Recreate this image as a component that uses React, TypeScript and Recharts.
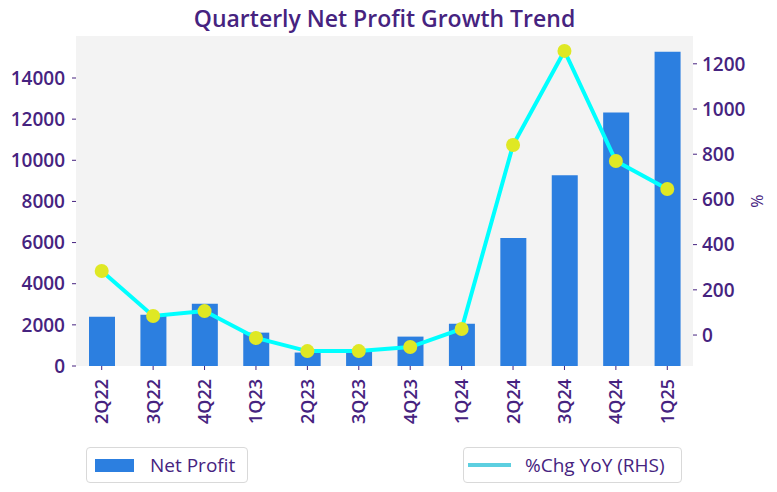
import {
  ComposedChart,
  Bar,
  Line,
  XAxis,
  YAxis,
  CartesianGrid,
} from 'recharts';

const quarters = ['2Q22', '3Q22', '4Q22', '1Q23', '2Q23', '3Q23', '4Q23', '1Q24', '2Q24', '3Q24', '4Q24', '1Q25'];
const netProfit = [2397, 2494, 3027, 1622, 654, 750, 1429, 2058, 6223, 9274, 12324, 15278];
const chgYoY = [283, 84, 106, -13, -71, -71, -53, 27, 841, 1257, 770, 646];
const leftTicks = [0, 2000, 4000, 6000, 8000, 10000, 12000, 14000];
const rightTicks = [0, 200, 400, 600, 800, 1000, 1200];

const FONT = '"Open Sans", sans-serif';
const PURPLE = '#46237f';
const BAR = '#2c7fe0';
const LINE = '#00ffff';
const DOT = '#dfe824';

const data = quarters.map((q, i) => ({ q, profit: netProfit[i], chg: chgYoY[i] }));

const XTick = ({ x, y, payload }: any) => (
  <g transform={`translate(${x},${y})`}>
    <text
      transform="rotate(-90)"
      textAnchor="end"
      dy="0.36em"
      x={0}
      fill={PURPLE}
      fontSize={18}
      fontWeight={600}
      fontFamily={FONT}
    >
      {payload.value}
    </text>
  </g>
);

const tickStyle = { fill: PURPLE, fontSize: 19, fontWeight: 600, fontFamily: FONT };

const LegendBox = ({ left, width, swatch, label }: any) => (
  <div
    style={{
      position: 'absolute',
      left,
      top: 447,
      width,
      height: 36,
      boxSizing: 'border-box',
      border: '1px solid #d9d9d9',
      borderRadius: 4,
      display: 'flex',
      alignItems: 'center',
      fontFamily: FONT,
      fontSize: 19,
      fontWeight: 500,
      color: PURPLE,
      background: '#fff',
    }}
  >
    {swatch}
    <span>{label}</span>
  </div>
);

export default function App() {
  return (
    <div style={{ position: 'absolute', left: 0, top: 0, width: 777, height: 492, background: '#fff' }}>
      <div
        style={{
          position: 'absolute',
          left: 0,
          top: 2,
          width: 769,
          textAlign: 'center',
          fontFamily: FONT,
          fontSize: 23,
          fontWeight: 600,
          color: PURPLE,
        }}
      >
        Quarterly Net Profit Growth Trend
      </div>
      <ComposedChart
        width={777}
        height={492}
        data={data}
        margin={{ top: 36, right: 0, bottom: 0, left: 0 }}
      >
        <CartesianGrid fill="#f3f3f3" stroke="none" horizontal={false} vertical={false} />
        <XAxis
          dataKey="q"
          height={126}
          axisLine={false}
          tickLine={{ stroke: PURPLE }}
          tickSize={4}
          tickMargin={9}
          tick={<XTick />}
          interval={0}
        />
        <YAxis
          yAxisId="left"
          width={76}
          domain={[0, 16042]}
          ticks={leftTicks}
          allowDataOverflow
          axisLine={false}
          tickLine={{ stroke: PURPLE }}
          tickSize={4}
          tickMargin={7}
          tick={tickStyle}
        />
        <YAxis
          yAxisId="right"
          orientation="right"
          width={84}
          domain={[-137, 1323]}
          ticks={rightTicks}
          allowDataOverflow
          axisLine={false}
          tickLine={{ stroke: PURPLE }}
          tickSize={4}
          tickMargin={5}
          tick={tickStyle}
          label={{
            value: '%',
            angle: -90,
            position: 'center',
            dx: 22,
            fill: PURPLE,
            fontSize: 16,
            fontFamily: FONT,
          }}
        />
        <Bar
          yAxisId="left"
          dataKey="profit"
          name="Net Profit"
          fill={BAR}
          barSize={26}
          isAnimationActive={false}
        />
        <Line
          yAxisId="right"
          dataKey="chg"
          name="%Chg YoY (RHS)"
          stroke={LINE}
          strokeWidth={4}
          type="linear"
          dot={{ r: 7, fill: DOT, stroke: 'none' }}
          activeDot={false}
          isAnimationActive={false}
        />
      </ComposedChart>
      <LegendBox
        left={86}
        width={162}
        label="Net Profit"
        swatch={<div style={{ width: 39, height: 13, background: BAR, marginLeft: 8, marginRight: 16 }} />}
      />
      <LegendBox
        left={463}
        width={219}
        label="%Chg YoY (RHS)"
        swatch={<div style={{ width: 43, height: 4, background: '#5ccfe0', marginLeft: 4, marginRight: 14 }} />}
      />
    </div>
  );
}
